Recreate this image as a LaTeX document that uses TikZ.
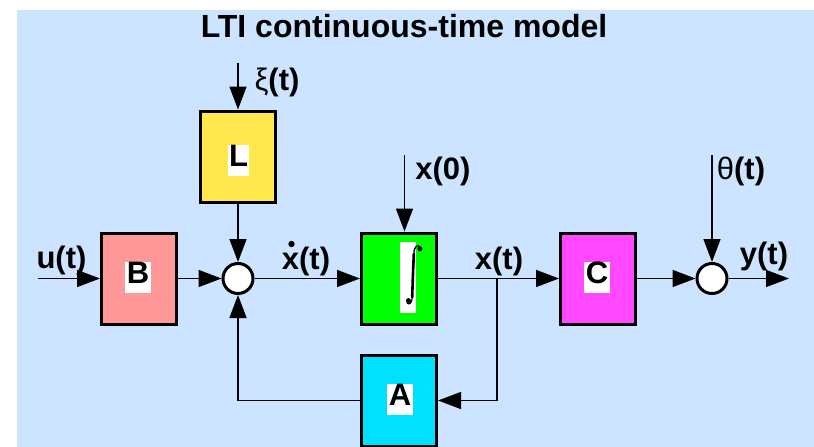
\documentclass[tikz,border=0pt]{standalone}
\usepackage{fontspec}
\setmainfont{Liberation Sans}
\usetikzlibrary{arrows.meta}
\definecolor{bgblue}{RGB}{204,228,255}
\definecolor{lyellow}{RGB}{255,231,76}
\definecolor{bpink}{RGB}{255,153,153}
\definecolor{igreen}{RGB}{0,255,0}
\definecolor{cmag}{RGB}{255,72,255}
\definecolor{acyan}{RGB}{0,225,255}
\begin{document}
\begin{tikzpicture}[x=1pt,y=-1pt,
  blk/.style={draw=black, line width=3pt, minimum width=75pt, minimum height=91pt, inner sep=0pt},
  tag/.style={fill=white, inner xsep=1.5pt, inner ysep=0pt, font=\fontsize{31}{31}\selectfont\bfseries, text height=21.5pt, text depth=9.5pt},
  lbl/.style={inner sep=0pt, font=\fontsize{31}{31}\selectfont\bfseries},
  sumnode/.style={circle, draw=black, fill=white, line width=3pt, minimum size=30pt, inner sep=0pt},
  wire/.style={line width=1.5pt, -{Triangle[length=23pt,width=17pt]}}
]
\clip (0,0) rectangle (814,447);
\fill[white] (0,0) rectangle (814,447);
\fill[bgblue] (16.5,9.5) rectangle (814,447);

\node[font=\fontsize{32}{32}\selectfont\bfseries] (title) at (404,26) {LTI continuous-time model};

% blocks
\node[blk, fill=lyellow] (L) at (238,156.5) {};
\node[blk, fill=bpink] (B) at (139,278.5) {};
\node[blk, fill=igreen] (I) at (399,278.5) {};
\node[blk, fill=cmag] (C) at (598,278.5) {};
\node[blk, fill=acyan] (A) at (399,400.5) {};

\node[tag] (Ltag) at (238.5,160.3) {L};
\node[tag] (Btag) at (138,277.5) {B};
\node[tag] (Ctag) at (597,277.5) {C};
\node[tag] (Atag) at (400,399.5) {A};
\node[fill=white, minimum width=16pt, minimum height=70.5pt, inner sep=0pt] (intbg) at (408,277.3) {};
% integral sign
\draw[line width=2.6pt, line cap=round] (413.8,254) .. controls (413.2,268) and (412.6,284) .. (412.2,297);
\draw[line width=1.3pt] (413.8,254) .. controls (414.2,246) and (417.5,244.3) .. (420,246.8);
\fill (419.8,248.8) circle (2.5pt);
\draw[line width=1.3pt] (412.2,297) .. controls (411.8,304.5) and (408.5,305) .. (406.8,302.5);
\fill (408.4,300.6) circle (2.5pt);

% summing junctions
\node[sumnode] (s1) at (238,278.5) {};
\node[sumnode] (s2) at (712,278.5) {};

% labels
\node[lbl] (ulbl) at (61.5,260) {u(t)};
\node[lbl] (xilbl) at (277,82) {{\mdseries ξ}(t)};
\node[lbl] (x0lbl) at (443,171) {x(0)};
\node[lbl] (thlbl) at (741,171) {{\mdseries θ}(t)};
\node[lbl] (xdlbl) at (306,261.5) {x(t)};
\fill (291.5,244) circle (3.2pt);
\node[lbl] (xlbl) at (499,261.5) {x(t)};
\node[lbl] (ylbl) at (764,256) {y(t)};

% free ends
\coordinate (uin) at (38,278.5);
\coordinate (xiin) at (238,63);
\coordinate (x0in) at (404.5,155);
\coordinate (thin) at (712,155);
\coordinate (yout) at (789,278.5);
\coordinate (br) at (497,278.5);

% connectors
\draw[wire] (uin) -- (B);
\draw[wire] (B) -- (s1);
\draw[wire] (xiin) -- (L);
\draw[wire] (L) -- (s1);
\draw[wire] (s1) -- (I);
\draw[wire] (x0in) -- (x0in |- I.north);
\draw[wire] (I) -- (C);
\draw[wire] (br) |- (A.east);
\draw[wire] (A.west) -| (s1.south);
\draw[wire] (C) -- (s2);
\draw[wire] (thin) -- (s2);
\draw[wire] (s2) -- (yout);
\end{tikzpicture}
\end{document}
